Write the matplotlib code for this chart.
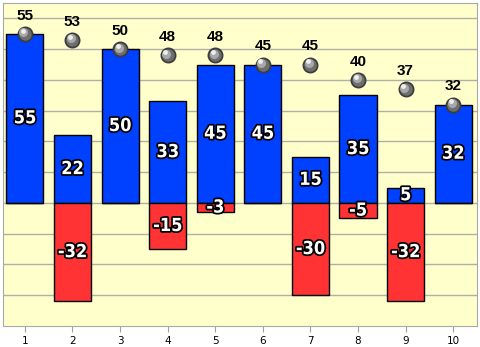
import matplotlib.pyplot as plt
import matplotlib.patheffects as pe

categories = ['1', '2', '3', '4', '5', '6', '7', '8', '9', '10']
positive = [55, 22, 50, 33, 45, 45, 15, 35, 5, 32]
negative = [0, -32, 0, -15, -3, 0, -30, -5, -32, 0]
points = [55, 53, 50, 48, 48, 45, 45, 40, 37, 32]

x = list(range(1, len(categories) + 1))

fig = plt.figure(figsize=(4.8, 3.47), dpi=100)
ax = fig.add_axes([3 / 480, 21 / 347, 474 / 480, 323 / 347])
ax.set_facecolor('#ffffcc')

ax.set_xlim(0.54, 10.5)
ax.set_ylim(-40, 65)
ax.set_yticks(range(-30, 61, 10))
ax.yaxis.grid(True, color='#b0b0a8', linewidth=1)
ax.set_axisbelow(True)
ax.tick_params(axis='y', length=0, labelleft=False)
ax.set_xticks(x)
ax.set_xticklabels(categories)
ax.tick_params(axis='x', length=4, color='#a0a0a0', labelsize=7.5, pad=3)
for s in ax.spines.values():
    s.set_color('#a8a8a8')

ax.bar(x, positive, width=0.78, color='#0040ff', edgecolor='black', linewidth=1, zorder=2)
ax.bar(x, negative, width=0.78, color='#ff3333', edgecolor='black', linewidth=1, zorder=2)

outline = [pe.withStroke(linewidth=2.5, foreground='black')]
for xi, v in zip(x, positive):
    ax.text(xi, v / 2, str(v), ha='center', va='center', color='white',
            fontsize=13, fontweight='bold', fontstretch='condensed',
            family='DejaVu Sans', path_effects=outline, zorder=5)
for xi, v in zip(x, negative):
    if v != 0:
        ax.text(xi, v / 2, str(v), ha='center', va='center', color='white',
                fontsize=13, fontweight='bold', fontstretch='condensed',
                family='DejaVu Sans', path_effects=outline, zorder=5)

# grey spheres
ax.scatter(x, points, s=110, color='#3c3c3c', zorder=6)
ax.scatter(x, points, s=80, color='#6e6e6e', zorder=6, linewidths=0)
ax.scatter([xi - 0.03 for xi in x], [p + 0.5 for p in points], s=42, color='#a8a8a8', zorder=6, linewidths=0)
ax.scatter([xi - 0.05 for xi in x], [p + 1.0 for p in points], s=12, color='#eeeeee', zorder=6, linewidths=0)

for xi, p in zip(x, points):
    ax.text(xi, p + 3.6, str(p), ha='center', va='bottom', color='black',
            fontsize=11, fontweight='bold', family='Liberation Sans', zorder=7)

fig.savefig('out.png', dpi=100)
